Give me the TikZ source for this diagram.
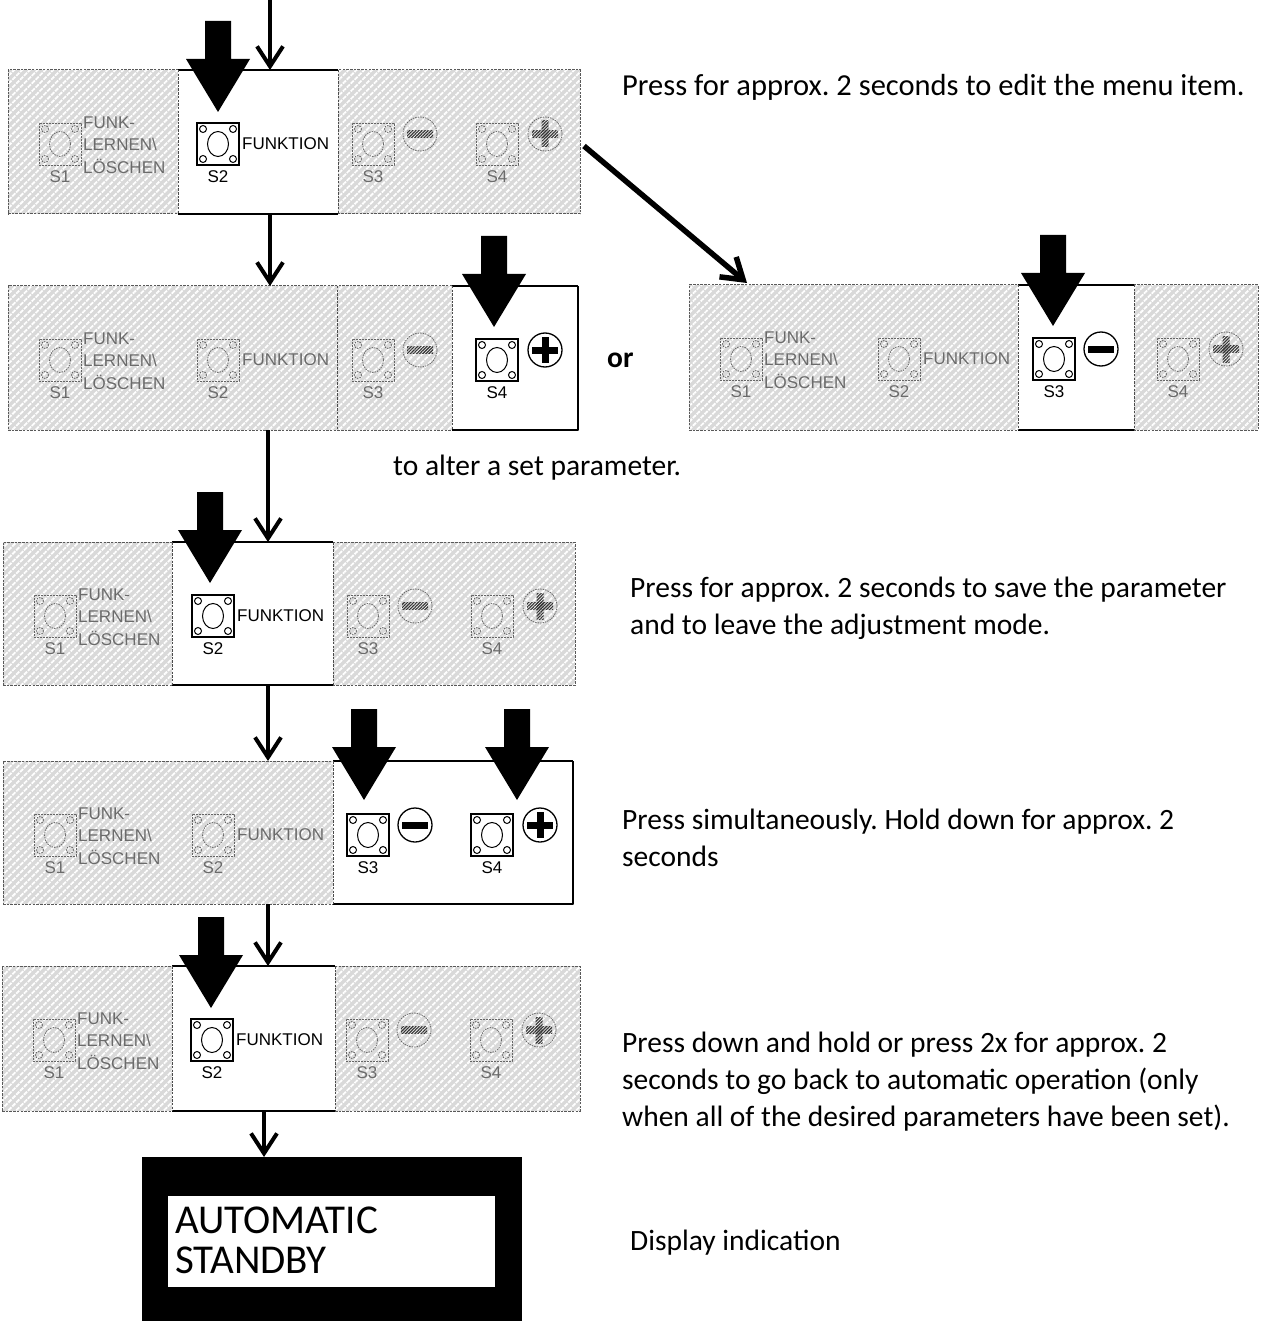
\documentclass[tikz,border=0pt]{standalone}
\usepackage{fontspec}
\setmainfont{Carlito}
\newfontfamily\panelfont{Liberation Sans}
\usetikzlibrary{arrows.meta,positioning,calc,patterns.meta}
\frenchspacing

\tikzset{
  panel/.style={rectangle, anchor=north west, inner sep=0pt, outer sep=0pt,
    preaction={fill=gray!30},
    preaction={pattern={Lines[angle=45,distance=5.5pt,line width=1.8pt]}, pattern color=white},
    draw=black!65, line width=1pt, dash pattern=on 2.5pt off 1.2pt},
  rim/.style={draw=black, line width=1.3pt, solid},
  seam/.style={draw=black!70, line width=1pt, dash pattern=on 2.5pt off 1.2pt},
  keyon/.style={rectangle, draw=black, line width=1.3pt, minimum size=42pt, inner sep=0pt, outer sep=0pt},
  keyoff/.style={rectangle, draw=black!60, line width=0.9pt, dash pattern=on 2pt off 1pt, minimum size=42pt, inner sep=0pt, outer sep=0pt},
  pinon/.style={draw=black, line width=1pt},
  pinoff/.style={draw=black!60, line width=0.8pt, dash pattern=on 1.5pt off 1pt},
  keytexton/.style={font=\panelfont\fontsize{17}{22.5}\selectfont, text=black, inner sep=0pt},
  keytextoff/.style={font=\panelfont\fontsize{17}{22.5}\selectfont, text=black!58, inner sep=0pt},
  signon/.style={circle, draw=black, line width=1.3pt, minimum size=34pt, inner sep=0pt},
  signoff/.style={circle, draw=black!60, line width=0.8pt, dash pattern=on 1.5pt off 1pt, minimum size=34pt, inner sep=0pt},
  baron/.style={fill=black},
  baroff/.style={pattern={Lines[angle=45,distance=2.2pt,line width=1.1pt]}, pattern color=black!80},
  flow/.style={line width=4pt, -{Straight Barb[length=20pt,width=26pt]}},
  note/.style={font=\fontsize{29.5}{37}\selectfont, inner sep=0pt, align=left},
  screentext/.style={font=\fontsize{41}{40}\selectfont, inner sep=0pt, align=left}
}

\newcommand{\tactkey}[4]{%
  \node[key#4] (#1) at #2 {};
  \draw[pin#4] (#1.center) ellipse (10.5 and 12.5);
  \foreach \dx/\dy in {-15/-15,15/-15,-15/15,15/15}
    \draw[pin#4] ($(#1.center)+(\dx,\dy)$) circle (3.5);
  \node[keytext#4, below=5pt of #1] (#1l) {#3};
}
\newcommand{\minuskey}[3]{%
  \node[sign#3] (#1) at #2 {};
  \fill[bar#3] ($(#1.center)+(-13,-3.5)$) rectangle ($(#1.center)+(13,3.5)$);
}
\newcommand{\pluskey}[3]{%
  \node[sign#3] (#1) at #2 {};
  \fill[bar#3] ($(#1.center)+(-13,-3.5)$) rectangle ($(#1.center)+(13,3.5)$);
  \fill[bar#3] ($(#1.center)+(-3.5,-13)$) rectangle ($(#1.center)+(3.5,13)$);
}
\newcommand{\keyrow}[5]{%
  \tactkey{#1k1}{($(#1.north west)+(52,74)$)}{S1}{#2}
  \node[keytext#2, anchor=west, align=left] (#1t1) at ($(#1k1.east)+(2,1)$) {FUNK-\\LERNEN\textbackslash\\LÖSCHEN};
  \tactkey{#1k2}{($(#1.north west)+(210,74)$)}{S2}{#3}
  \node[keytext#3, anchor=west] (#1t2) at ($(#1k2.east)+(3,0)$) {FUNKTION};
  \tactkey{#1k3}{($(#1.north west)+(365,74)$)}{S3}{#4}
  \minuskey{#1m}{($(#1.north west)+(412,64)$)}{#4}
  \tactkey{#1k4}{($(#1.north west)+(489,74)$)}{S4}{#5}
  \pluskey{#1p}{($(#1.north west)+(537,64)$)}{#5}
}
\newcommand{\pressbox}[4]{%
  \coordinate (#1a) at ($(#1.north west)+(#2,0)$);
  \coordinate (#1b) at ($(#1.south west)+(#2+#3,0)$);
  \fill[white] (#1a) rectangle (#1b);
  \draw[rim] (#1a) -- (#1a -| #1b) (#1b) -- (#1b -| #1a);
  \draw[seam] (#1a) -- (#1a |- #1b);
  \draw[#4] (#1a -| #1b) -- (#1b);
}
\newcommand{\pushdown}[1]{%
  \fill #1 -- ++(-32,-53) -- ++(19,0) -- ++(0,-38) -- ++(26,0) -- ++(0,38) -- ++(19,0) -- cycle;
}

\begin{document}
\begin{tikzpicture}[x=1pt,y=-1pt]
  \useasboundingbox (0,0) rectangle (1263,1321);

  % step 1: S2
  \node[panel, minimum width=572pt, minimum height=144pt] (p1) at (8,70) {};
  \pressbox{p1}{170}{160}{seam}
  \keyrow{p1}{off}{on}{off}{off}
  \pushdown{($(p1k2.north)+(0,-11)$)}

  % step 2: S4 or S3
  \node[panel, minimum width=570pt, minimum height=144pt] (p2) at (8,286) {};
  \draw[seam] ($(p2.north west)+(329,0)$) -- ($(p2.south west)+(329,0)$);
  \pressbox{p2}{444}{126}{rim}
  \keyrow{p2}{off}{off}{off}{on}
  \pushdown{($(p2k4.north)+(-3,-12)$)}

  \node[panel, minimum width=569pt, minimum height=145pt] (q2) at (689,285) {};
  \pressbox{q2}{329}{116}{seam}
  \keyrow{q2}{off}{off}{on}{off}
  \pushdown{($(q2k3.north)+(-1,-12)$)}

  % step 3: S2
  \node[panel, minimum width=572pt, minimum height=143pt] (p3) at (3,542) {};
  \pressbox{p3}{169}{161}{seam}
  \keyrow{p3}{off}{on}{off}{off}
  \pushdown{($(p3k2.north)+(-3,-12)$)}

  % step 4: S3 + S4
  \node[panel, minimum width=570pt, minimum height=143pt] (p4) at (3,761) {};
  \pressbox{p4}{330}{240}{rim}
  \keyrow{p4}{off}{off}{on}{on}
  \pushdown{($(p4k3.north)+(-4,-14)$)}
  \pushdown{($(p4k4.north)+(25,-14)$)}

  % step 5: S2
  \node[panel, minimum width=578pt, minimum height=145pt] (p5) at (2,966) {};
  \pressbox{p5}{170}{163}{seam}
  \keyrow{p5}{off}{on}{off}{off}
  \pushdown{($(p5k2.north)+(-1,-11)$)}

  % display
  \node[fill=black, minimum width=380pt, minimum height=164pt, anchor=north, inner sep=0pt, outer sep=0pt] (disp) at (332,1157) {};
  \node[fill=white, minimum width=327pt, minimum height=91pt, inner sep=0pt] (screen) at (331.5,1241.5) {};
  \node[screentext, anchor=north west] (msg) at ($(screen.north west)+(7,11)$) {AUTOMATIC\\STANDBY};

  % connectors
  \coordinate (entry) at (270,0);
  \coordinate (lane) at (268,0);
  \coordinate (exit) at (264,0);
  \draw[flow] (entry) -- (entry |- p1.north);
  \draw[flow] (p1.south -| entry) -- (p2.north -| entry);
  \draw[flow] (p2.south -| lane) -- (p3.north -| lane);
  \draw[flow] (p3.south -| lane) -- (p4.north -| lane);
  \draw[flow] (p4.south -| lane) -- (p5.north -| lane);
  \draw[flow] (p5.south -| exit) -- (disp.north -| exit);
  \draw[flow, line width=5.5pt] ($(p1.east)+(4,4)$) -- ($(q2.north west)+(58,-2)$);

  % notes
  \node[note, anchor=base west, font=\fontsize{30.5}{37}\selectfont] (n1) at (622,96) {Press for approx. 2 seconds to edit the menu item.};
  \node[note, anchor=base west, font=\fontsize{29.5}{37}\selectfont\bfseries] (or) at (607,367) {or};
  \node[note, anchor=base west] (n2) at (393,475) {to alter a set parameter.};
  \node[note, anchor=north west] (n3) at (630,576.5) {Press for approx. 2 seconds to save the parameter\\and to leave the adjustment mode.};
  \node[note, anchor=north west] (n4) at (622,808.5) {Press simultaneously. Hold down for approx. 2\\seconds};
  \node[note, anchor=north west] (n5) at (622,1031.5) {Press down and hold or press 2x for approx. 2\\seconds to go back to automatic operation (only\\when all of the desired parameters have been set).};
  \node[note, anchor=base west] (n6) at (630,1250) {Display indication};
\end{tikzpicture}
\end{document}
